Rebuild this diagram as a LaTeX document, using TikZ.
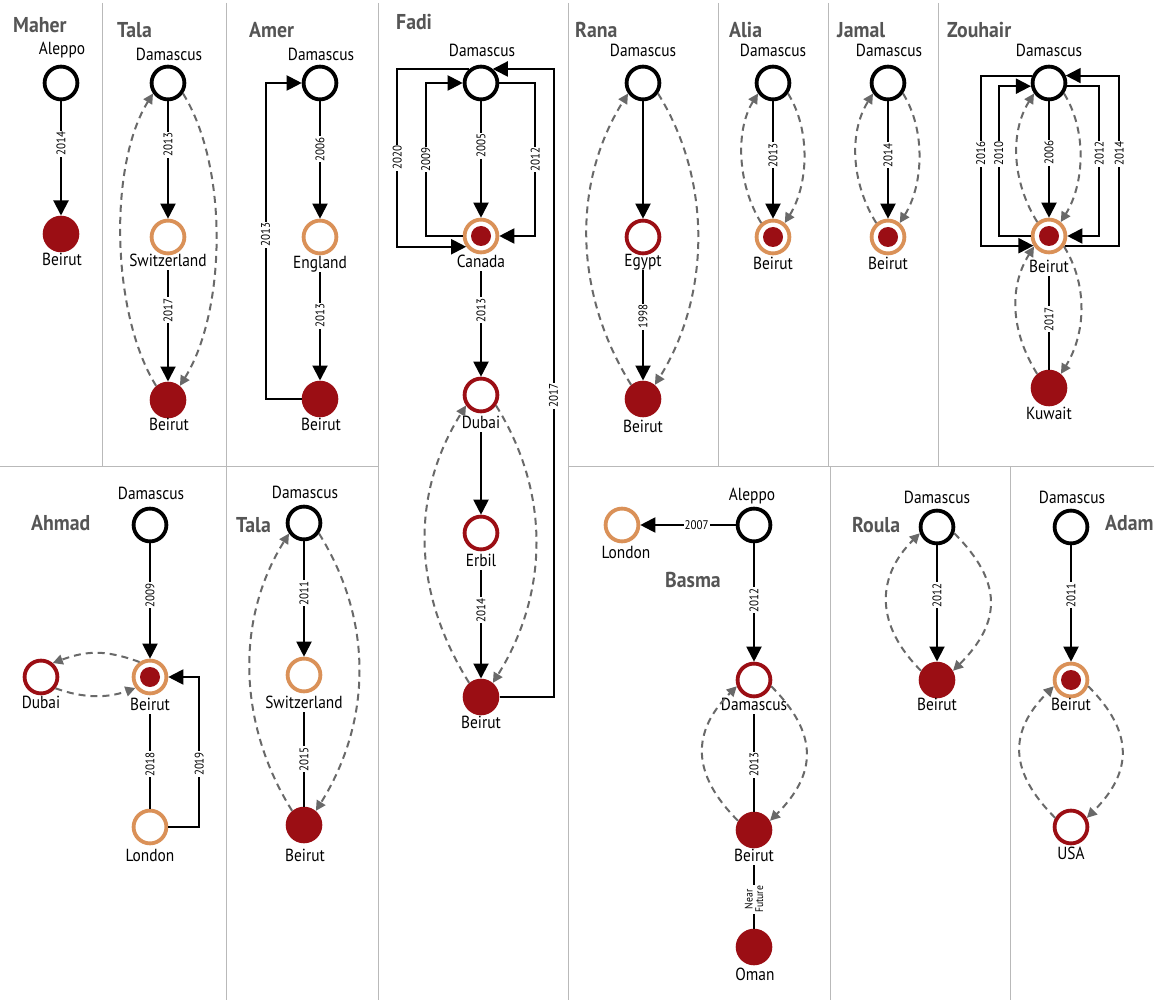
\documentclass[tikz,border=0pt]{standalone}
\usepackage{fontspec}
\setmainfont{PT Sans}[FakeStretch=0.88]
\newfontfamily\ttlfam{PT Sans}[FakeStretch=0.92]
\usetikzlibrary{arrows.meta}
\definecolor{dred}{RGB}{155,14,20}
\definecolor{orng}{RGB}{218,145,88}
\definecolor{dgray}{RGB}{105,105,105}
\definecolor{tgray}{RGB}{85,85,85}
\definecolor{divc}{RGB}{185,185,185}
\newcommand\lblf{\fontsize{17.5}{19}\selectfont}
\newcommand\yrf{\fontsize{12.5}{13}\selectfont}
\newcommand\ttlf{\ttlfam\fontsize{21.5}{24}\selectfont\bfseries}
\begin{document}
\begin{tikzpicture}[x=1pt,y=1pt,
 ring/.style={circle, draw=black, line width=3.8pt, fill=white, minimum size=32.8pt, inner sep=0pt},
 oring/.style={ring, draw=orng},
 rring/.style={ring, draw=dred},
 dring/.style={oring, path picture={\fill[dred] (path picture bounding box.center) circle (10pt);}},
 full/.style={circle, fill=dred, minimum size=36.6pt, inner sep=0pt},
 lab/.style={font=\lblf, inner sep=0.5pt, text height=12pt, text depth=3pt},
 ttl/.style={font=\ttlf, text=tgray, anchor=west, inner sep=0pt, text height=15pt, text depth=0pt},
 arr/.style={line width=2pt, -{Triangle[length=15pt,width=15pt]}},
 ln/.style={line width=2pt},
 dsh/.style={draw=dgray, line width=2pt, dash pattern=on 7pt off 5pt, -{Triangle[length=10pt,width=10pt]}},
 yr/.style={font=\yrf, fill=white, inner sep=1pt, rotate=90},
 yrh/.style={font=\yrf, fill=white, inner sep=1pt},
 divl/.style={draw=divc, line width=1pt}]
\fill[white] (0,0) rectangle (1154,-1000);
\useasboundingbox (0,0) rectangle (1154,-1000);
% dividers
\draw[divl] (102,-3) -- (102,-466);
\draw[divl] (226,-3) -- (226,-1000);
\draw[divl] (378,-3) -- (378,-1000);
\draw[divl] (568,-3) -- (568,-1000);
\draw[divl] (718,-3) -- (718,-466);
\draw[divl] (828,-3) -- (828,-466);
\draw[divl] (938,-3) -- (938,-466);
\draw[divl] (830,-466) -- (830,-1000);
\draw[divl] (1010,-466) -- (1010,-1000);
\draw[divl] (0,-466) -- (378,-466);
\draw[divl] (568,-466) -- (1154,-466);

% ---------------- Maher
\node[ttl] (tMaher) at (13,-25) {Maher};
\node[ring] (m1) at (61,-83) {};
\node[lab] (m1l) at (62,-50) {Aleppo};
\node[full] (m2) at (61,-234) {};
\node[lab] (m2l) at (62,-261) {Beirut};
\draw[arr] (m1) -- (m2) node[yr,pos=0.37]{2014};

% ---------------- Tala (top)
\node[ttl] (tTala1) at (117,-30) {Tala};
\node[ring] (t1d) at (168,-83) {};
\node[lab] (t1dl) at (169,-56) {Damascus};
\node[oring] (t1s) at (168,-237) {};
\node[lab] (t1sl) at (168,-262) {Switzerland};
\node[full] (t1b) at (168,-400) {};
\node[lab] (t1bl) at (169,-426) {Beirut};
\draw[arr] (t1d) -- (t1s) node[yr,pos=0.37]{2013};
\draw[arr] (t1sl) -- (t1b) node[yr,pos=0.36]{2017};
\draw[dsh] (t1b.130) to[out=122,in=238,looseness=0.74] (t1d.215);
\draw[dsh] (t1d.-35) to[out=-58,in=58,looseness=0.76] (t1b.50);

% ---------------- Amer
\node[ttl] (tAmer) at (249,-30) {Amer};
\node[ring] (ad) at (320,-83) {};
\node[lab] (adl) at (321,-56) {Damascus};
\node[oring] (ae) at (320,-237) {};
\node[lab] (ael) at (320,-264) {England};
\node[full] (ab) at (320,-399) {};
\node[lab] (abl) at (321,-426) {Beirut};
\draw[arr] (ad) -- (ae) node[yr,pos=0.41]{2006};
\draw[arr] (ael) -- (ab) node[yr,pos=0.4]{2013};
\draw[arr] (ab.west) -- ++(-36,0) |- node[yr,pos=0.26]{2013} (ad.west);

% ---------------- Fadi
\node[ttl] (tFadi) at (396,-22) {Fadi};
\node[ring] (fd) at (481,-83) {};
\node[lab] (fdl) at (482,-52) {Damascus};
\node[dring] (fc) at (481,-236) {};
\node[lab] (fcl) at (481,-263) {Canada};
\node[rring] (fu) at (481,-395) {};
\node[lab] (ful) at (481,-424) {Dubai};
\node[rring] (fe) at (481,-533) {};
\node[lab] (fel) at (481,-562) {Erbil};
\node[full] (fb) at (481,-697) {};
\node[lab] (fbl) at (481,-724) {Beirut};
\draw[arr] (fd) -- (fc) node[yr,pos=0.38]{2005};
\draw[arr] (fcl) -- (fu) node[yr,pos=0.37]{2013};
\draw[arr] (ful) -- (fe);
\draw[arr] (fel) -- (fb) node[yr,pos=0.37]{2014};
\draw[arr] (fd.130) -- ++(-72,0) |- node[yr,pos=0.25]{2020} (fc.216);
\draw[arr] (fc.west) -- ++(-37,0) |- node[yr,pos=0.25]{2009} (fd.west);
\draw[arr] (fd.east) -- ++(36,0) |- node[yr,pos=0.25]{2012} (fc.east);
\draw[arr] (fb.east) -- ++(54,0) |- node[yr,pos=0.24]{2017} (fd.50);
\draw[dsh] (fb.130) to[out=122,in=238,looseness=0.98] (fu.215);
\draw[dsh] (fu.-35) to[out=-58,in=58,looseness=0.96] (fb.50);

% ---------------- Rana
\node[ttl] (tRana) at (575,-30) {Rana};
\node[ring] (rd) at (643,-83) {};
\node[lab] (rdl) at (643,-52) {Damascus};
\node[rring] (re) at (643,-237) {};
\node[lab] (rel) at (643,-262) {Egypt};
\node[full] (rb) at (643,-399) {};
\node[lab] (rbl) at (643,-428) {Beirut};
\draw[arr] (rd) -- (re);
\draw[arr] (rel) -- (rb) node[yr,pos=0.42]{1998};
\draw[dsh] (rb.130) to[out=122,in=238,looseness=0.94] (rd.215);
\draw[dsh] (rd.-35) to[out=-58,in=58,looseness=0.91] (rb.50);

% ---------------- Alia
\node[ttl] (tAlia) at (729,-30) {Alia};
\node[ring] (ald) at (773,-83) {};
\node[lab] (aldl) at (773,-52) {Damascus};
\node[dring] (alb) at (773,-237) {};
\node[lab] (albl) at (773,-265) {Beirut};
\draw[arr] (ald) -- (alb) node[yr,pos=0.46]{2013};
\draw[dsh] (alb.130) to[out=122,in=238,looseness=0.87] (ald.215);
\draw[dsh] (ald.-35) to[out=-58,in=58,looseness=0.87] (alb.50);

% ---------------- Jamal
\node[ttl] (tJamal) at (837,-30) {Jamal};
\node[ring] (jd) at (888,-83) {};
\node[lab] (jdl) at (889,-52) {Damascus};
\node[dring] (jb) at (888,-237) {};
\node[lab] (jbl) at (888,-265) {Beirut};
\draw[arr] (jd) -- (jb) node[yr,pos=0.46]{2014};
\draw[dsh] (jb.130) to[out=122,in=238,looseness=0.92] (jd.215);
\draw[dsh] (jd.-35) to[out=-58,in=58,looseness=0.87] (jb.50);

% ---------------- Zouhair
\node[ttl] (tZouhair) at (947,-30) {Zouhair};
\node[ring] (zd) at (1049,-83) {};
\node[lab] (zdl) at (1049,-52) {Damascus};
\node[dring] (zb) at (1049,-236) {};
\node[lab] (zbl) at (1049,-268) {Beirut};
\node[full] (zk) at (1049,-388) {};
\node[lab] (zkl) at (1049,-415) {Kuwait};
\draw[arr] (zd) -- (zb) node[yr,pos=0.44]{2006};
\draw[ln] (zbl) -- (zk) node[yr,pos=0.46]{2017};
\draw[arr] (zd.156) -- ++(-51.5,0) |- node[yr,pos=0.23]{2016} (zb.212);
\draw[arr] (zb.west) -- ++(-32,0) |- node[yr,pos=0.275]{2010} (zd.190);
\draw[arr] (zd.350) -- ++(32.3,0) |- node[yr,pos=0.225]{2012} (zb.east);
\draw[arr] (zb.328) -- ++(54.6,0) |- node[yr,pos=0.27]{2014} (zd.24);
\draw[dsh] (zb.130) to[out=122,in=238,looseness=0.93] (zd.215);
\draw[dsh] (zd.-35) to[out=-58,in=58,looseness=0.88] (zb.50);
\draw[dsh] (zk.130) to[out=122,in=238,looseness=0.98] (zb.215);
\draw[dsh] (zb.-35) to[out=-58,in=58,looseness=0.93] (zk.50);

% ---------------- Ahmad
\node[ttl] (tAhmad) at (31,-523) {Ahmad};
\node[ring] (ahd) at (150,-525) {};
\node[lab] (ahdl) at (151,-495) {Damascus};
\node[dring] (ahb) at (150,-677) {};
\node[lab] (ahbl) at (150,-706) {Beirut};
\node[rring] (ahu) at (41,-677) {};
\node[lab] (ahul) at (41,-704) {Dubai};
\node[oring] (ahl) at (150,-827) {};
\node[lab] (ahll) at (150,-857) {London};
\draw[arr] (ahd) -- (ahb) node[yr,pos=0.45]{2009};
\draw[ln] (ahbl) -- (ahl) node[yr,pos=0.53]{2018};
\draw[arr] (ahl.east) -- ++(31,0) |- node[yr,pos=0.21]{2019} (ahb.east);
\draw[dsh] (ahb.125) to[out=160,in=20,looseness=1.07] (ahu.50);
\draw[dsh] (ahu.-38) to[out=-20,in=200,looseness=0.95] (ahb.217);

% ---------------- Tala (bottom)
\node[ttl] (tTala2) at (236,-525) {Tala};
\node[ring] (t2d) at (304,-523) {};
\node[lab] (t2dl) at (305,-494) {Damascus};
\node[oring] (t2s) at (304,-675) {};
\node[lab] (t2sl) at (304,-704) {Switzerland};
\node[full] (t2b) at (304,-825) {};
\node[lab] (t2bl) at (305,-857) {Beirut};
\draw[arr] (t2d) -- (t2s) node[yr,pos=0.45]{2011};
\draw[ln] (t2sl) -- (t2b) node[yr,pos=0.5]{2015};
\draw[dsh] (t2b.130) to[out=122,in=238,looseness=0.94] (t2d.215);
\draw[dsh] (t2d.-35) to[out=-58,in=58,looseness=0.96] (t2b.50);

% ---------------- Basma
\node[ttl] (tBasma) at (665,-580) {Basma};
\node[ring] (bal) at (754,-525) {};
\node[lab] (ball) at (752,-496) {Aleppo};
\node[oring] (blo) at (622,-525) {};
\node[lab] (blol) at (626,-554) {London};
\node[rring] (bda) at (754,-680) {};
\node[lab] (bdal) at (754,-706) {Damascus};
\node[full] (bbe) at (754,-830) {};
\node[lab] (bbel) at (754,-857) {Beirut};
\node[full] (bom) at (754,-947) {};
\node[lab] (boml) at (755,-976) {Oman};
\draw[arr] (bal) -- (blo) node[yrh,pos=0.41]{2007};
\draw[arr] (bal) -- (bda) node[yr,pos=0.48]{2012};
\draw[ln] (bdal) -- (bbe) node[yr,pos=0.52]{2013};
\draw[ln] (bbel) -- (bom) node[yr,pos=0.54,align=center,font=\fontsize{11}{10.5}\selectfont]{Near\\Future};
\draw[dsh] (bbe.150) to[out=135,in=225,looseness=1.24] (bda.200);
\draw[dsh] (bda.-20) to[out=-45,in=45,looseness=1.27] (bbe.30);

% ---------------- Roula
\node[ttl] (tRoula) at (852,-525) {Roula};
\node[ring] (rod) at (937,-527) {};
\node[lab] (rodl) at (937,-499) {Damascus};
\node[full] (rob) at (937,-680) {};
\node[lab] (robl) at (937,-706) {Beirut};
\draw[arr] (rod) -- (rob) node[yr,pos=0.43]{2012};
\draw[dsh] (rob.150) to[out=135,in=225,looseness=1.18] (rod.200);
\draw[dsh] (rod.-20) to[out=-45,in=45,looseness=1.28] (rob.30);

% ---------------- Adam
\node[ttl] (tAdam) at (1105,-523) {Adam};
\node[ring] (add) at (1071,-527) {};
\node[lab] (addl) at (1072,-499) {Damascus};
\node[dring] (adb) at (1071,-680) {};
\node[lab] (adbl) at (1071,-706) {Beirut};
\node[rring] (adu) at (1071,-827) {};
\node[lab] (adul) at (1071,-855) {USA};
\draw[arr] (add) -- (adb) node[yr,pos=0.43]{2011};
\draw[dsh] (adu.150) to[out=135,in=225,looseness=1.26] (adb.200);
\draw[dsh] (adb.-20) to[out=-45,in=45,looseness=1.26] (adu.30);
\end{tikzpicture}
\end{document}
